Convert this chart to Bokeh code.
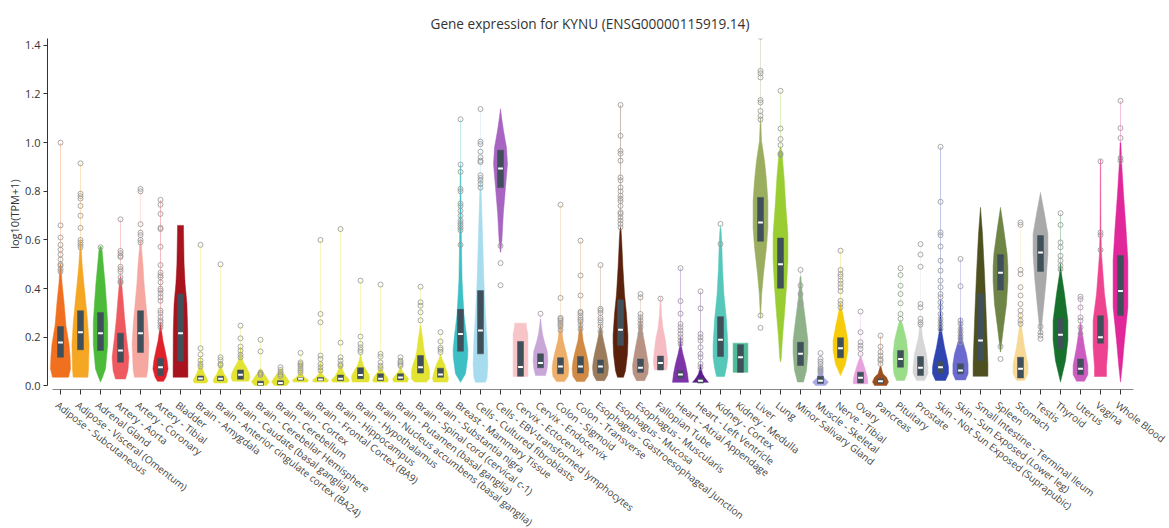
from bokeh.plotting import figure
from bokeh.layouts import column
from bokeh.models import Range1d, FixedTicker, PrintfTickFormatter
from bokeh.core.properties import value
from bokeh.embed import file_html
from bokeh.resources import INLINE

# ---- data -------------------------------------------------------------
tissues = [
    "Adipose - Subcutaneous", "Adipose - Visceral (Omentum)", "Adrenal Gland",
    "Artery - Aorta", "Artery - Coronary", "Artery - Tibial", "Bladder",
    "Brain - Amygdala", "Brain - Anterior cingulate cortex (BA24)",
    "Brain - Caudate (basal ganglia)", "Brain - Cerebellar Hemisphere",
    "Brain - Cerebellum", "Brain - Cortex", "Brain - Frontal Cortex (BA9)",
    "Brain - Hippocampus", "Brain - Hypothalamus",
    "Brain - Nucleus accumbens (basal ganglia)", "Brain - Putamen (basal ganglia)",
    "Brain - Spinal cord (cervical c-1)", "Brain - Substantia nigra",
    "Breast - Mammary Tissue", "Cells - Cultured fibroblasts",
    "Cells - EBV-transformed lymphocytes", "Cervix - Ectocervix",
    "Cervix - Endocervix", "Colon - Sigmoid", "Colon - Transverse",
    "Esophagus - Gastroesophageal Junction", "Esophagus - Mucosa",
    "Esophagus - Muscularis", "Fallopian Tube", "Heart - Atrial Appendage",
    "Heart - Left Ventricle", "Kidney - Cortex", "Kidney - Medulla", "Liver",
    "Lung", "Minor Salivary Gland", "Muscle - Skeletal", "Nerve - Tibial",
    "Ovary", "Pancreas", "Pituitary", "Prostate",
    "Skin - Not Sun Exposed (Suprapubic)", "Skin - Sun Exposed (Lower leg)",
    "Small Intestine - Terminal Ileum", "Spleen", "Stomach", "Testis",
    "Thyroid", "Uterus", "Vagina", "Whole Blood",
]

BRAIN = "#E3E334"
colors = [
    "#F07020", "#F5A623", "#4CBB3A", "#EE5A5F", "#F5A7A0", "#E0202A", "#A8141E",
    BRAIN, BRAIN, BRAIN, BRAIN, BRAIN, BRAIN, BRAIN, BRAIN, BRAIN, BRAIN, BRAIN,
    BRAIN, BRAIN,
    "#3DBFC4", "#A6DCEE", "#A764C0", "#F7C4C8", "#C9A6D8", "#EDAE6A", "#CF8B46",
    "#9A7B5C", "#5A220C", "#B89282", "#F6BCC4", "#7C34A8", "#5A1C8C", "#55C8BA",
    "#4FBB98", "#9BAE5F", "#9ACD32", "#8FB18A", "#AAAAE8", "#F6CB0A", "#E6A2DD",
    "#9B4E1E", "#99DD88", "#D6D6D6", "#2E44B0", "#6A6ACF", "#4F5020", "#6F8447",
    "#F7D894", "#A9A9A9", "#17702C", "#CC5CC0", "#EE4490", "#E0289A",
]

q1 = [0.118, 0.149, 0.146, 0.098, 0.138, 0.043, 0.102,
      0.024, 0.022, 0.028, 0.003, 0.005, 0.024, 0.022, 0.022, 0.030, 0.022, 0.025, 0.053, 0.036,
      0.143, 0.132, 0.816, 0.040, 0.075, 0.050, 0.053, 0.053, 0.166, 0.056, 0.066, 0.033, 0.012,
      0.121, 0.056, 0.595, 0.402, 0.084, 0.010, 0.116, 0.012, 0.010, 0.077, 0.043, 0.053, 0.050,
      0.104, 0.394, 0.033, 0.471, 0.153, 0.047, 0.176, 0.290]
medians = [0.179, 0.221, 0.217, 0.146, 0.217, 0.077, 0.217,
           0.031, 0.030, 0.046, 0.008, 0.012, 0.030, 0.027, 0.030, 0.045, 0.030, 0.035, 0.077, 0.047,
           0.214, 0.228, 0.894, 0.078, 0.094, 0.080, 0.080, 0.080, 0.231, 0.075, 0.094, 0.047, 0.022,
           0.190, 0.118, 0.672, 0.500, 0.132, 0.022, 0.155, 0.034, 0.020, 0.111, 0.075, 0.077, 0.064,
           0.187, 0.465, 0.071, 0.549, 0.211, 0.071, 0.200, 0.390]
q3 = [0.244, 0.309, 0.302, 0.217, 0.309, 0.114, 0.378,
      0.041, 0.040, 0.066, 0.020, 0.022, 0.034, 0.035, 0.045, 0.075, 0.050, 0.050, 0.125, 0.073,
      0.315, 0.392, 0.969, 0.183, 0.132, 0.116, 0.121, 0.107, 0.354, 0.111, 0.123, 0.063, 0.030,
      0.285, 0.170, 0.775, 0.608, 0.180, 0.040, 0.198, 0.057, 0.030, 0.146, 0.121, 0.100, 0.091,
      0.378, 0.540, 0.118, 0.618, 0.276, 0.111, 0.289, 0.536]

# density outline of each violin: expression levels (bottom to top) and the
# half-width of the violin at each level, as a fraction of the category slot
profile_levels = [
    [0.036, 0.07, 0.12, 0.17, 0.25, 0.34, 0.42, 0.50],
    [0.036, 0.07, 0.17, 0.26, 0.34, 0.42, 0.50, 0.57, 0.60],
    [0.016, 0.036, 0.07, 0.17, 0.26, 0.34, 0.42, 0.50, 0.556, 0.573],
    [0.029, 0.064, 0.118, 0.20, 0.283, 0.365, 0.42, 0.45],
    [0.036, 0.069, 0.174, 0.256, 0.338, 0.42, 0.50, 0.577, 0.60],
    [0.019, 0.036, 0.07, 0.105, 0.146, 0.187, 0.228, 0.26],
    [0.036, 0.069, 0.228, 0.338, 0.42, 0.50, 0.64, 0.66],
    [0.012, 0.022, 0.035, 0.05, 0.07, 0.084, 0.12],
    [0.012, 0.022, 0.035, 0.05, 0.07, 0.10],
    [0.02, 0.035, 0.05, 0.077, 0.097, 0.12, 0.16],
    [0.002, 0.016, 0.036, 0.053, 0.07],
    [0.002, 0.016, 0.036, 0.053, 0.07],
    [0.016, 0.025, 0.036, 0.05, 0.10],
    [0.016, 0.025, 0.036, 0.05, 0.10],
    [0.016, 0.025, 0.043, 0.064, 0.09],
    [0.016, 0.03, 0.045, 0.065, 0.083, 0.11, 0.13],
    [0.016, 0.025, 0.04, 0.06, 0.08],
    [0.016, 0.03, 0.045, 0.06, 0.08],
    [0.016, 0.03, 0.064, 0.09, 0.118, 0.146, 0.187, 0.228, 0.25],
    [0.016, 0.03, 0.05, 0.07, 0.09, 0.11, 0.13],
    [0.015, 0.05, 0.118, 0.15, 0.214, 0.296, 0.433, 0.57, 0.68, 0.91],
    [0.015, 0.036, 0.09, 0.187, 0.296, 0.433, 0.57, 0.707, 0.816, 0.85],
    [0.55, 0.597, 0.707, 0.816, 0.912, 0.98, 1.05, 1.10, 1.139],
    [0.039, 0.214, 0.24, 0.258],
    [0.043, 0.07, 0.105, 0.146, 0.18, 0.214, 0.25, 0.276],
    [0.018, 0.04, 0.071, 0.10, 0.132, 0.187, 0.242, 0.27],
    [0.018, 0.04, 0.071, 0.10, 0.132, 0.187, 0.242, 0.27],
    [0.022, 0.045, 0.076, 0.105, 0.132, 0.187, 0.23, 0.25],
    [0.036, 0.063, 0.132, 0.18, 0.21, 0.296, 0.378, 0.488, 0.597, 0.64, 0.65],
    [0.022, 0.05, 0.084, 0.12, 0.159, 0.214, 0.26, 0.29],
    [0.066, 0.09, 0.11, 0.15, 0.187, 0.24, 0.296, 0.365],
    [0.015, 0.05, 0.091, 0.132, 0.16, 0.20],
    [0.015, 0.025, 0.036, 0.05, 0.07, 0.09],
    [0.039, 0.076, 0.118, 0.17, 0.269, 0.378, 0.488, 0.597, 0.65],
    [0.056, 0.176],
    [0.28, 0.31, 0.378, 0.46, 0.57, 0.65, 0.76, 0.844, 0.926, 1.008, 1.10],
    [0.10, 0.118, 0.20, 0.297, 0.406, 0.516, 0.625, 0.734, 0.857, 0.953, 0.98],
    [0.016, 0.064, 0.132, 0.187, 0.269, 0.365, 0.45],
    [0.002, 0.016, 0.036, 0.064, 0.08],
    [0.043, 0.09, 0.146, 0.187, 0.241, 0.31, 0.34],
    [0.009, 0.03, 0.05, 0.09, 0.12],
    [0.002, 0.016, 0.036, 0.05, 0.08],
    [0.023, 0.05, 0.09, 0.132, 0.187, 0.255, 0.27],
    [0.023, 0.05, 0.077, 0.132, 0.201, 0.27],
    [0.023, 0.05, 0.077, 0.104, 0.159, 0.215, 0.30, 0.35],
    [0.025, 0.05, 0.09, 0.132, 0.187, 0.28],
    [0.04, 0.091, 0.187, 0.323, 0.46, 0.625, 0.734],
    [0.14, 0.173, 0.241, 0.337, 0.43, 0.49, 0.543, 0.652, 0.734],
    [0.023, 0.05, 0.09, 0.159, 0.241, 0.30],
    [0.21, 0.241, 0.323, 0.433, 0.543, 0.625, 0.707, 0.795],
    [0.016, 0.104, 0.187, 0.269, 0.378, 0.46, 0.50],
    [0.02, 0.047, 0.085, 0.159, 0.241, 0.26],
    [0.039, 0.077, 0.16, 0.269, 0.378, 0.543, 0.65, 0.93],
    [0.016, 0.077, 0.187, 0.324, 0.516, 0.652, 0.79, 0.926, 1.0],
]
profile_widths = [
    [0.40, 0.50, 0.48, 0.43, 0.27, 0.18, 0.08, 0.02],
    [0.37, 0.40, 0.43, 0.36, 0.27, 0.17, 0.08, 0.03, 0.01],
    [0.0, 0.10, 0.25, 0.36, 0.36, 0.30, 0.23, 0.14, 0.08, 0.03],
    [0.25, 0.37, 0.42, 0.30, 0.20, 0.12, 0.06, 0.02],
    [0.30, 0.37, 0.42, 0.36, 0.27, 0.18, 0.12, 0.04, 0.01],
    [0.15, 0.27, 0.38, 0.33, 0.23, 0.12, 0.05, 0.01],
    [0.37, 0.37, 0.36, 0.32, 0.23, 0.18, 0.15, 0.15],
    [0.30, 0.37, 0.30, 0.20, 0.10, 0.05, 0.01],
    [0.30, 0.37, 0.30, 0.18, 0.08, 0.01],
    [0.40, 0.47, 0.45, 0.30, 0.15, 0.05, 0.01],
    [0.30, 0.45, 0.30, 0.15, 0.04],
    [0.30, 0.45, 0.30, 0.15, 0.03],
    [0.35, 0.40, 0.20, 0.08, 0.01],
    [0.35, 0.40, 0.22, 0.08, 0.01],
    [0.40, 0.45, 0.25, 0.12, 0.03],
    [0.40, 0.45, 0.43, 0.30, 0.15, 0.05, 0.01],
    [0.35, 0.40, 0.30, 0.12, 0.03],
    [0.35, 0.40, 0.25, 0.10, 0.02],
    [0.30, 0.45, 0.45, 0.37, 0.25, 0.18, 0.12, 0.05, 0.01],
    [0.35, 0.40, 0.35, 0.28, 0.20, 0.08, 0.01],
    [0.0, 0.25, 0.36, 0.37, 0.29, 0.17, 0.08, 0.05, 0.03, 0.01],
    [0.25, 0.33, 0.37, 0.33, 0.25, 0.17, 0.12, 0.07, 0.03, 0.01],
    [0.01, 0.07, 0.14, 0.25, 0.35, 0.30, 0.15, 0.06, 0.0],
    [0.37, 0.37, 0.30, 0.29],
    [0.25, 0.33, 0.37, 0.33, 0.20, 0.10, 0.04, 0.01],
    [0.20, 0.38, 0.42, 0.38, 0.30, 0.13, 0.05, 0.01],
    [0.20, 0.38, 0.42, 0.38, 0.30, 0.13, 0.05, 0.01],
    [0.20, 0.36, 0.40, 0.36, 0.30, 0.15, 0.05, 0.01],
    [0.15, 0.25, 0.35, 0.37, 0.37, 0.30, 0.20, 0.12, 0.06, 0.03, 0.01],
    [0.20, 0.37, 0.40, 0.33, 0.25, 0.12, 0.04, 0.01],
    [0.30, 0.35, 0.35, 0.30, 0.25, 0.12, 0.05, 0.01],
    [0.40, 0.35, 0.25, 0.12, 0.05, 0.01],
    [0.40, 0.30, 0.20, 0.10, 0.04, 0.01],
    [0.20, 0.30, 0.37, 0.37, 0.30, 0.17, 0.10, 0.06, 0.02],
    [0.37, 0.37],
    [0.01, 0.02, 0.06, 0.15, 0.30, 0.37, 0.37, 0.30, 0.20, 0.05, 0.01],
    [0.01, 0.04, 0.10, 0.20, 0.30, 0.37, 0.37, 0.27, 0.18, 0.08, 0.02],
    [0.15, 0.30, 0.37, 0.37, 0.25, 0.10, 0.02],
    [0.25, 0.40, 0.15, 0.10, 0.02],
    [0.0, 0.25, 0.37, 0.37, 0.25, 0.08, 0.01],
    [0.37, 0.35, 0.30, 0.15, 0.02],
    [0.30, 0.40, 0.30, 0.12, 0.02],
    [0.20, 0.33, 0.37, 0.37, 0.30, 0.10, 0.02],
    [0.20, 0.37, 0.37, 0.30, 0.10, 0.01],
    [0.25, 0.40, 0.40, 0.35, 0.20, 0.08, 0.02, 0.01],
    [0.25, 0.38, 0.38, 0.30, 0.10, 0.01],
    [0.37, 0.37, 0.33, 0.27, 0.20, 0.10, 0.0],
    [0.01, 0.05, 0.15, 0.30, 0.37, 0.37, 0.33, 0.15, 0.0],
    [0.20, 0.37, 0.37, 0.20, 0.06, 0.01],
    [0.01, 0.05, 0.15, 0.28, 0.37, 0.37, 0.20, 0.0],
    [0.0, 0.25, 0.37, 0.37, 0.20, 0.05, 0.01],
    [0.20, 0.37, 0.37, 0.20, 0.05, 0.01],
    [0.30, 0.30, 0.37, 0.37, 0.20, 0.05, 0.02, 0.005],
    [0.0, 0.08, 0.20, 0.37, 0.37, 0.27, 0.15, 0.05, 0.02],
]

outliers = [
    [1.0, 0.66, 0.61, 0.58, 0.56, 0.54, 0.52, 0.50, 0.495, 0.48, 0.47],
    [0.915, 0.79, 0.78, 0.77, 0.74, 0.70, 0.65, 0.60, 0.59, 0.58, 0.57],
    [0.57],
    [0.685, 0.555, 0.545, 0.535, 0.53, 0.49, 0.48, 0.47, 0.447, 0.43, 0.425],
    [0.81, 0.80, 0.665, 0.63, 0.62, 0.60, 0.59],
    [0.765, 0.745, 0.707, 0.65, 0.645, 0.572, 0.497, 0.466, 0.455, 0.447, 0.426, 0.40,
     0.392, 0.38, 0.365, 0.35, 0.31, 0.30, 0.283, 0.27, 0.262, 0.25, 0.24],
    [],
    [0.58, 0.155, 0.13, 0.105, 0.09, 0.08],
    [0.50, 0.118, 0.107, 0.091, 0.085],
    [0.248, 0.196, 0.162, 0.145, 0.128, 0.118],
    [0.19, 0.142, 0.055, 0.05, 0.045],
    [0.077, 0.066, 0.056, 0.047, 0.04],
    [0.136, 0.097, 0.09, 0.083, 0.073, 0.064, 0.055],
    [0.60, 0.296, 0.262, 0.125, 0.111, 0.09, 0.077, 0.064],
    [0.645, 0.178, 0.118, 0.104, 0.09, 0.083],
    [0.433, 0.203, 0.173, 0.159, 0.148, 0.139],
    [0.417, 0.132, 0.121, 0.097, 0.083, 0.073],
    [0.118, 0.104, 0.097, 0.09, 0.083],
    [0.408, 0.344, 0.33, 0.303, 0.27],
    [0.221, 0.183, 0.157, 0.149, 0.139],
    [1.096, 0.91, 0.88, 0.81, 0.80, 0.75, 0.74, 0.72, 0.70, 0.68, 0.67, 0.66, 0.65, 0.64, 0.58],
    [1.138, 1.004, 0.994, 0.963, 0.94, 0.926, 0.92, 0.866, 0.855, 0.844, 0.83, 0.815],
    [0.576, 0.505, 0.414],
    [],
    [0.297],
    [0.745, 0.362, 0.28, 0.275, 0.268, 0.26, 0.252, 0.245, 0.23],
    [0.597, 0.454, 0.372, 0.305, 0.30, 0.29, 0.28, 0.272, 0.265, 0.25, 0.234],
    [0.497, 0.317, 0.31, 0.30, 0.28, 0.27, 0.26, 0.245, 0.224],
    [1.155, 1.028, 0.966, 0.955, 0.926, 0.857, 0.845, 0.816, 0.80, 0.782, 0.77, 0.76, 0.74,
     0.714, 0.707, 0.693, 0.68, 0.666, 0.652],
    [0.378, 0.364, 0.296, 0.283, 0.27, 0.255, 0.242, 0.214],
    [0.359],
    [0.484, 0.349, 0.297, 0.255, 0.242, 0.228, 0.214, 0.2, 0.187, 0.173],
    [0.389, 0.319, 0.214, 0.2, 0.187, 0.159, 0.132, 0.118, 0.091, 0.077],
    [0.666, 0.584],
    [],
    [1.435, 1.295, 1.285, 1.268, 1.175, 1.165, 1.13, 1.11, 1.095, 0.29, 0.239],
    [1.213, 1.058, 1.015, 0.99, 0.955, 0.95],
    [0.477, 0.413, 0.378, 0.34],
    [0.135, 0.111, 0.1, 0.09, 0.077, 0.07, 0.064, 0.057],
    [0.556, 0.477, 0.46, 0.45, 0.433, 0.42, 0.406, 0.39, 0.35, 0.337, 0.323],
    [0.306, 0.221, 0.18, 0.166, 0.153, 0.132],
    [0.207, 0.162, 0.139, 0.125, 0.111, 0.104, 0.091],
    [0.484, 0.456, 0.412, 0.378, 0.34, 0.296, 0.276],
    [0.583, 0.54, 0.49, 0.337, 0.323, 0.276, 0.262, 0.252],
    [0.983, 0.757, 0.631, 0.62, 0.573, 0.515, 0.474, 0.433, 0.406, 0.378, 0.365, 0.344,
     0.323, 0.296, 0.276, 0.262, 0.248, 0.234],
    [0.522, 0.41, 0.269, 0.255, 0.234, 0.221, 0.207, 0.194, 0.18],
    [],
    [0.162, 0.111],
    [0.672, 0.662, 0.477, 0.46, 0.406, 0.372, 0.337, 0.31, 0.29, 0.269, 0.255],
    [0.244, 0.22, 0.207, 0.194],
    [0.71, 0.662, 0.59, 0.57, 0.535, 0.515, 0.495, 0.48],
    [0.367, 0.357, 0.323, 0.282, 0.269, 0.241, 0.214],
    [0.923, 0.631, 0.62, 0.559],
    [1.172, 1.06, 1.019, 0.937, 0.926],
]

y_ticks = [0.0, 0.2, 0.4, 0.6, 0.8, 1.0, 1.2, 1.4]

# ---- styling constants --------------------------------------------------
FONT = "Open Sans"
TEXT = "#333333"
BOX = "#40505A"
WIDTH = 1169
PLOT_H = 395            # violin panel
NAMES_H = 528 - PLOT_H  # panel holding the slanted tissue names
LEFT = 47
SLOT_PX = 20            # pixels per tissue slot
X0 = -0.65              # left end of the category scale

n = len(tissues)
slots = list(range(n))

# both panels span to the right edge and share one category scale
x_scale = Range1d(X0, X0 + (WIDTH - LEFT) / SLOT_PX)

# ---- violin panel -------------------------------------------------------
p = figure(
    width=WIDTH, height=PLOT_H, output_backend="svg", toolbar_location=None,
    x_range=x_scale, y_range=Range1d(-0.0144, 1.428),
    min_border_left=LEFT, min_border_right=0, min_border_top=38, min_border_bottom=6,
    title="Gene expression for KYNU (ENSG00000115919.14)",
)
p.background_fill_color = "white"
p.border_fill_color = "white"
p.outline_line_color = None
p.grid.visible = False

# title sits over the middle of the tissue slots
p.title.align = "left"
p.title.offset = 383
p.title.text_font = FONT
p.title.text_font_size = "13.6px"
p.title.text_font_style = "normal"
p.title.text_color = TEXT
p.title.standoff = 11

# violins
vx, vy = [], []
for i in slots:
    lv, hw = profile_levels[i], profile_widths[i]
    vx.append([i - w for w in hw] + [i + w for w in reversed(hw)])
    vy.append(list(lv) + list(reversed(lv)))
p.patches(vx, vy, fill_color=colors, line_color=colors, line_width=0.5)

# faint tails up to the highest observation
tail_x, tail_y0, tail_y1, tail_c = [], [], [], []
for i in slots:
    top = profile_levels[i][-1]
    if outliers[i] and max(outliers[i]) > top:
        tail_x.append(i)
        tail_y0.append(top)
        tail_y1.append(max(outliers[i]))
        tail_c.append(colors[i])
p.segment(x0=tail_x, y0=tail_y0, x1=tail_x, y1=tail_y1, line_color=tail_c,
          line_alpha=0.3, line_width=1)

# interquartile boxes and medians
p.vbar(x=slots, width=0.3, bottom=q1, top=q3, fill_color=BOX, line_color=BOX, line_width=0.5)
p.segment(x0=[i - 0.12 for i in slots], y0=medians, x1=[i + 0.12 for i in slots], y1=medians,
          line_color="white", line_width=2)

# outlying samples
ox, oy = [], []
for i in slots:
    for v in outliers[i]:
        ox.append(i)
        oy.append(v)
p.scatter(ox, oy, marker="circle", size=5, fill_color=None, line_color="#9A9A9A",
          line_alpha=0.85, line_width=1)

# axes
p.yaxis.ticker = FixedTicker(ticks=y_ticks)
p.yaxis.formatter = PrintfTickFormatter(format="%.1f")
p.yaxis.bounds = (0, 1.428)
p.yaxis.axis_label = "log10(TPM+1)"
p.yaxis.axis_label_text_font = FONT
p.yaxis.axis_label_text_font_size = "11px"
p.yaxis.axis_label_text_font_style = "normal"
p.yaxis.axis_label_text_color = TEXT
p.yaxis.axis_label_standoff = 0
p.yaxis.major_label_standoff = 3
p.yaxis.major_label_text_font = FONT
p.yaxis.major_label_text_font_size = "11px"
p.yaxis.major_label_text_color = TEXT
p.yaxis.axis_line_color = "#333333"
p.yaxis.major_tick_line_color = "#333333"
p.yaxis.major_tick_in = 0
p.yaxis.major_tick_out = 4
p.yaxis.minor_tick_line_color = None

p.xaxis.ticker = FixedTicker(ticks=slots)
p.xaxis.bounds = (X0 + 0.25, n - 0.35)
p.xaxis.major_label_overrides = {i: "" for i in slots}
p.xaxis.major_label_text_font_size = "0px"
p.xaxis.major_label_standoff = 0
p.xaxis.axis_line_color = "#888888"
p.xaxis.major_tick_line_color = "#333333"
p.xaxis.major_tick_in = 0
p.xaxis.major_tick_out = 5
p.xaxis.minor_tick_line_color = None

# ---- slanted tissue names on the same category scale --------------------
names = figure(
    width=WIDTH, height=NAMES_H, output_backend="svg", toolbar_location=None,
    x_range=x_scale, y_range=Range1d(0, NAMES_H),
    x_axis_type=None, y_axis_type=None,
    min_border_left=LEFT, min_border_right=0, min_border_top=0, min_border_bottom=0,
)
names.outline_line_color = None
names.grid.visible = False
names.background_fill_color = "white"
names.border_fill_color = "white"
names.text(x=[i - 0.17 for i in slots], y=[NAMES_H - 8] * n, text=tissues, angle=-0.66,
           text_align="left", text_baseline="middle", text_font=value(FONT),
           text_font_size="10px", text_color="#444444")

open("out.html", "w").write(file_html(column(p, names, spacing=0), INLINE))
